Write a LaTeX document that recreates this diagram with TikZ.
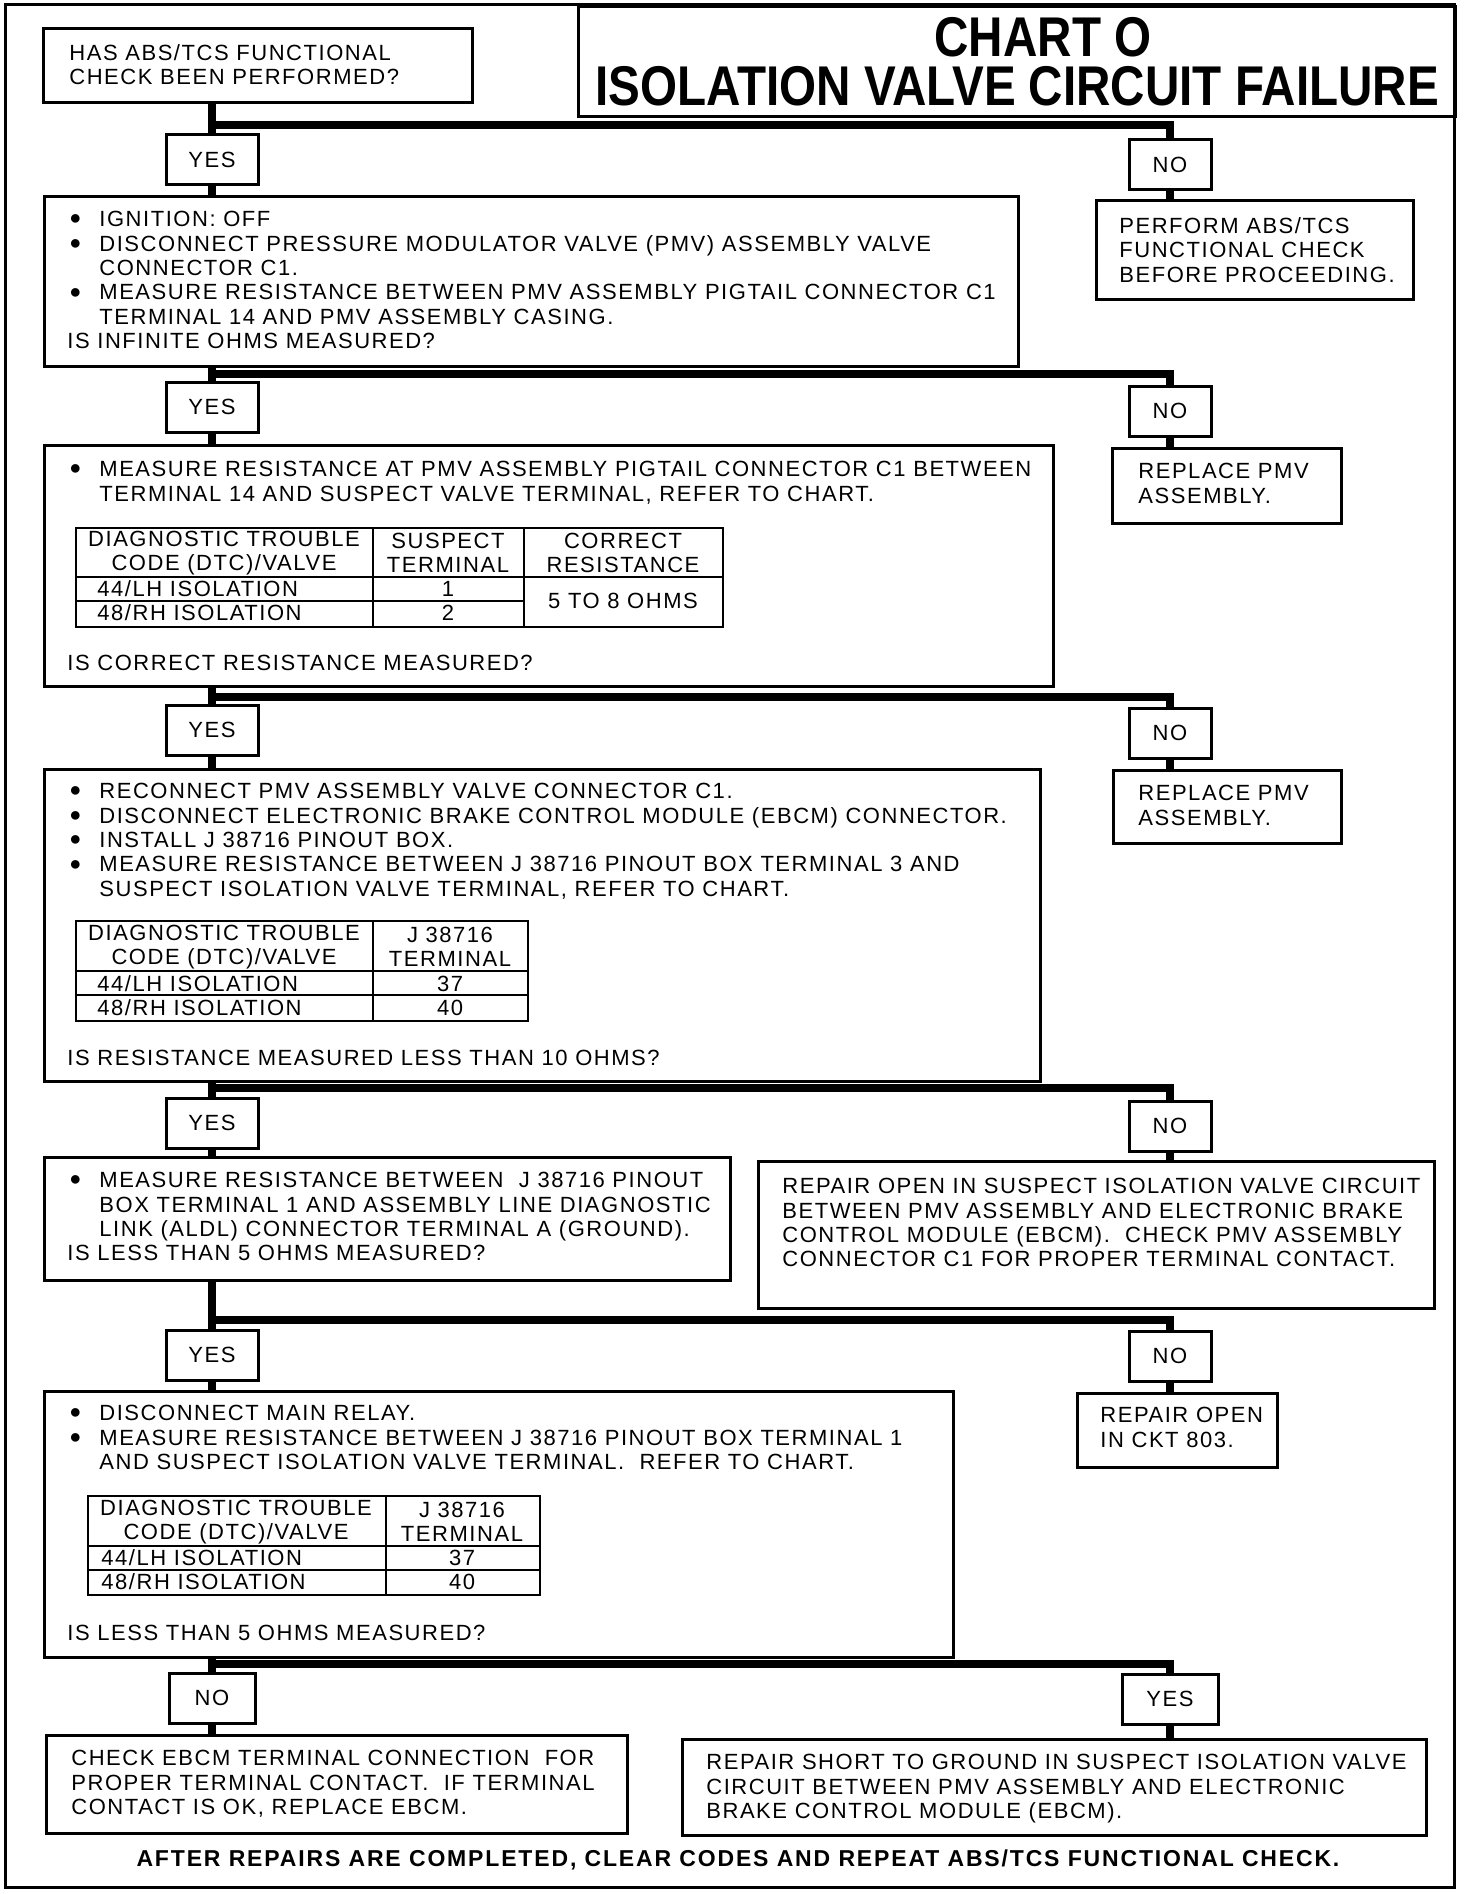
\documentclass[tikz,border=0pt]{standalone}
\usepackage{fontspec}
\usepackage{graphicx}
\setmainfont{Liberation Sans}[LetterSpace=7]
\newfontfamily\titlefont{Liberation Sans}
\newfontfamily\footfont{Liberation Sans}[LetterSpace=8]
\newcommand{\bul}{\hspace*{1pt}\makebox[15pt][l]{\raisebox{0.9pt}{\fontsize{10}{10}\selectfont ●}}}
\newcommand{\ind}{\hspace*{16pt}}
\tikzset{
  box/.style={draw, line width=1.5pt, anchor=north west, inner sep=0pt},
  tag/.style={draw, line width=1.5pt, minimum height=25pt, inner sep=0pt, font=\fontsize{11}{12}\selectfont},
  txt/.style={anchor=north west, inner sep=0pt, align=left, font=\fontsize{11}{12.2}\selectfont},
  cell/.style={inner sep=0pt, align=center, font=\fontsize{11}{12}\selectfont},
  head/.style={anchor=base, inner sep=0pt, font=\titlefont\fontsize{28}{30}\selectfont\bfseries},
  conn/.style={line width=4pt},
  grid/.style={line width=1pt}
}
\begin{document}
\begin{tikzpicture}[x=0.5pt,y=-0.5pt]
\useasboundingbox (0,0) rectangle (1472,1894);
\draw[line width=1.5pt] (5,5) rectangle (1454,1887);
\node[box, minimum width=438.5pt, minimum height=55pt] (title) at (577,5) {};
\node[head] (chart) at (1043,57) {\scalebox{0.85}[1]{CHART O}};
\node[head] (failure) at (1017,106) {\scalebox{0.85}[1]{ISOLATION VALVE CIRCUIT FAILURE}};

\node[box, minimum width=214.5pt, minimum height=37pt] (q1) at (42,27) {};
\node[txt] (q1t) at ([shift={(27,17)}]q1.north west) {HAS ABS/TCS FUNCTIONAL\\CHECK BEEN PERFORMED?};

\coordinate (j1) at (212,125);
\node[tag, minimum width=46pt] (yes1) at (212,160) {YES};
\node[tag, minimum width=41pt] (no1) at (1170,165) {NO};
\node[box, minimum width=487pt, minimum height=85pt] (b1) at (43,195) {};
\node[txt] (b1t) at ([shift={(24,16)}]b1.north west) {\bul IGNITION: OFF\\
\bul DISCONNECT PRESSURE MODULATOR VALVE (PMV) ASSEMBLY VALVE\\
\ind CONNECTOR C1.\\
\bul MEASURE RESISTANCE BETWEEN PMV ASSEMBLY PIGTAIL CONNECTOR C1\\
\ind TERMINAL 14 AND PMV ASSEMBLY CASING.\\
IS INFINITE OHMS MEASURED?};
\node[box, minimum width=158.5pt, minimum height=49.5pt] (perform) at (1095,199) {};
\node[txt] (performt) at ([shift={(24,18)}]perform.north west) {PERFORM ABS/TCS\\FUNCTIONAL CHECK\\BEFORE PROCEEDING.};

\coordinate (j2) at (212,374);
\node[tag, minimum width=46pt] (yes2) at (212,407) {YES};
\node[tag, minimum width=41pt] (no2) at (1170,411) {NO};
\node[box, minimum width=504.5pt, minimum height=120.5pt] (b2) at (43,444) {};
\node[txt] (b2t) at ([shift={(24,17)}]b2.north west) {\bul MEASURE RESISTANCE AT PMV ASSEMBLY PIGTAIL CONNECTOR C1 BETWEEN\\
\ind TERMINAL 14 AND SUSPECT VALVE TERMINAL, REFER TO CHART.};
\node[box, line width=1pt, minimum width=323.5pt, minimum height=49.5pt] (t2) at (75,527) {};
\draw[grid] (373,527) -- (373,626);
\draw[grid] (524,527) -- (524,626);
\draw[grid] (75,577) -- (722,577);
\draw[grid] (75,601) -- (524,601);
\node[cell] (t2h1) at (224,553) {DIAGNOSTIC TROUBLE\\CODE (DTC)/VALVE};
\node[cell] (t2h2) at (448,553) {SUSPECT\\TERMINAL};
\node[cell] (t2h3) at (623,553) {CORRECT\\RESISTANCE};
\node[cell, anchor=west] (t2r1) at (97,589) {44/LH ISOLATION};
\node[cell] (t2v1) at (448,589) {1};
\node[cell, anchor=west] (t2r2) at (97,613) {48/RH ISOLATION};
\node[cell] (t2v2) at (448,613) {2};
\node[cell] (t2v3) at (623,601) {5 TO 8 OHMS};
\node[txt, anchor=base west] (b2q) at ([shift={(24,-18)}]b2.south west) {IS CORRECT RESISTANCE MEASURED?};
\node[box, minimum width=114.5pt, minimum height=37.5pt] (rep1) at (1111,447) {};
\node[txt] (rep1t) at ([shift={(27,16)}]rep1.north west) {REPLACE PMV\\ASSEMBLY.};

\coordinate (j3) at (212,697);
\node[tag, minimum width=46pt] (yes3) at (212,730) {YES};
\node[tag, minimum width=41pt] (no3) at (1170,733) {NO};
\node[box, minimum width=498pt, minimum height=156pt] (b3) at (43,768) {};
\node[txt] (b3t) at ([shift={(24,15)}]b3.north west) {\bul RECONNECT PMV ASSEMBLY VALVE CONNECTOR C1.\\
\bul DISCONNECT ELECTRONIC BRAKE CONTROL MODULE (EBCM) CONNECTOR.\\
\bul INSTALL J 38716 PINOUT BOX.\\
\bul MEASURE RESISTANCE BETWEEN J 38716 PINOUT BOX TERMINAL 3 AND\\
\ind SUSPECT ISOLATION VALVE TERMINAL, REFER TO CHART.};
\node[box, line width=1pt, minimum width=226pt, minimum height=50pt] (t3) at (75,920) {};
\draw[grid] (373,920) -- (373,1020);
\draw[grid] (75,971) -- (527,971);
\draw[grid] (75,995) -- (527,995);
\node[cell] (t3h1) at (224,947) {DIAGNOSTIC TROUBLE\\CODE (DTC)/VALVE};
\node[cell] (t3h2) at (450,947) {J 38716\\TERMINAL};
\node[cell, anchor=west] (t3r1) at (97,984) {44/LH ISOLATION};
\node[cell] (t3v1) at (450,984) {37};
\node[cell, anchor=west] (t3r2) at (97,1008) {48/RH ISOLATION};
\node[cell] (t3v2) at (450,1008) {40};
\node[txt, anchor=base west] (b3q) at ([shift={(24,-18)}]b3.south west) {IS RESISTANCE MEASURED LESS THAN 10 OHMS?};
\node[box, minimum width=114pt, minimum height=36.5pt] (rep2) at (1112,769) {};
\node[txt] (rep2t) at ([shift={(26,16)}]rep2.north west) {REPLACE PMV\\ASSEMBLY.};

\coordinate (j4) at (212,1088);
\node[tag, minimum width=46pt] (yes4) at (212,1123) {YES};
\node[tag, minimum width=41pt] (no4) at (1170,1126) {NO};
\node[box, minimum width=343pt, minimum height=61.5pt] (b4) at (43,1156) {};
\node[txt] (b4t) at ([shift={(24,16)}]b4.north west) {\bul MEASURE RESISTANCE BETWEEN\ \ J 38716 PINOUT\\
\ind BOX TERMINAL 1 AND ASSEMBLY LINE DIAGNOSTIC\\
\ind LINK (ALDL) CONNECTOR TERMINAL A (GROUND).\\
IS LESS THAN 5 OHMS MEASURED?};
\node[box, minimum width=338pt, minimum height=73.5pt] (open) at (757,1160) {};
\node[txt] (opent) at ([shift={(25,18)}]open.north west) {REPAIR OPEN IN SUSPECT ISOLATION VALVE CIRCUIT\\
BETWEEN PMV ASSEMBLY AND ELECTRONIC BRAKE\\
CONTROL MODULE (EBCM).\ \ CHECK PMV ASSEMBLY\\
CONNECTOR C1 FOR PROPER TERMINAL CONTACT.};

\coordinate (j5) at (212,1320);
\node[tag, minimum width=46pt] (yes5) at (212,1355) {YES};
\node[tag, minimum width=41pt] (no5) at (1170,1356) {NO};
\node[box, minimum width=454.5pt, minimum height=133pt] (b5) at (43,1390) {};
\node[txt] (b5t) at ([shift={(24,15)}]b5.north west) {\bul DISCONNECT MAIN RELAY.\\
\bul MEASURE RESISTANCE BETWEEN J 38716 PINOUT BOX TERMINAL 1\\
\ind AND SUSPECT ISOLATION VALVE TERMINAL.\ \ REFER TO CHART.};
\node[box, line width=1pt, minimum width=226pt, minimum height=49.5pt] (t5) at (87,1495) {};
\draw[grid] (386,1495) -- (386,1594);
\draw[grid] (87,1546) -- (539,1546);
\draw[grid] (87,1570) -- (539,1570);
\node[cell] (t5h1) at (236,1522) {DIAGNOSTIC TROUBLE\\CODE (DTC)/VALVE};
\node[cell] (t5h2) at (462,1522) {J 38716\\TERMINAL};
\node[cell, anchor=west] (t5r1) at (101,1558) {44/LH ISOLATION};
\node[cell] (t5v1) at (462,1558) {37};
\node[cell, anchor=west] (t5r2) at (101,1582) {48/RH ISOLATION};
\node[cell] (t5v2) at (462,1582) {40};
\node[txt, anchor=base west] (b5q) at ([shift={(24,-19)}]b5.south west) {IS LESS THAN 5 OHMS MEASURED?};
\node[box, minimum width=100pt, minimum height=37pt] (ckt) at (1076,1392) {};
\node[txt] (ckt803) at ([shift={(24,15)}]ckt.north west) {REPAIR OPEN\\IN CKT 803.};

\coordinate (j6) at (212,1664);
\node[tag, minimum width=43pt] (no6) at (212,1698) {NO};
\node[tag, minimum width=48pt] (yes6) at (1170,1699) {YES};
\node[box, minimum width=290.5pt, minimum height=49pt] (ebcm) at (45,1734) {};
\node[txt] (ebcmt) at ([shift={(26,16)}]ebcm.north west) {CHECK EBCM TERMINAL CONNECTION\ \ FOR\\
PROPER TERMINAL CONTACT.\ \ IF TERMINAL\\
CONTACT IS OK, REPLACE EBCM.};
\node[box, minimum width=372pt, minimum height=48pt] (short) at (681,1738) {};
\node[txt] (shortt) at ([shift={(25,16)}]short.north west) {REPAIR SHORT TO GROUND IN SUSPECT ISOLATION VALVE\\
CIRCUIT BETWEEN PMV ASSEMBLY AND ELECTRONIC\\
BRAKE CONTROL MODULE (EBCM).};
\node[anchor=base, inner sep=0pt] (foot) at (738,1866) {\footfont\fontsize{11.5}{12}\selectfont\bfseries AFTER REPAIRS ARE COMPLETED, CLEAR CODES AND REPEAT ABS/TCS FUNCTIONAL CHECK.};

\draw[conn] (q1.south -| j1) -- (j1) -| (no1.north);
\draw[conn] (j1) -- (yes1.north);
\draw[conn] (yes1.south) -- (yes1.south |- b1.north);
\draw[conn] (no1.south) -- (no1.south |- perform.north);
\draw[conn] (b1.south -| j2) -- (j2) -| (no2.north);
\draw[conn] (j2) -- (yes2.north);
\draw[conn] (yes2.south) -- (yes2.south |- b2.north);
\draw[conn] (no2.south) -- (no2.south |- rep1.north);
\draw[conn] (b2.south -| j3) -- (j3) -| (no3.north);
\draw[conn] (j3) -- (yes3.north);
\draw[conn] (yes3.south) -- (yes3.south |- b3.north);
\draw[conn] (no3.south) -- (no3.south |- rep2.north);
\draw[conn] (b3.south -| j4) -- (j4) -| (no4.north);
\draw[conn] (j4) -- (yes4.north);
\draw[conn] (yes4.south) -- (yes4.south |- b4.north);
\draw[conn] (no4.south) -- (no4.south |- open.north);
\draw[conn] (b4.south -| j5) -- (j5) -| (no5.north);
\draw[conn] (j5) -- (yes5.north);
\draw[conn] (yes5.south) -- (yes5.south |- b5.north);
\draw[conn] (no5.south) -- (no5.south |- ckt.north);
\draw[conn] (b5.south -| j6) -- (j6) -| (yes6.north);
\draw[conn] (j6) -- (no6.north);
\draw[conn] (no6.south) -- (no6.south |- ebcm.north);
\draw[conn] (yes6.south) -- (yes6.south |- short.north);
\end{tikzpicture}
\end{document}
